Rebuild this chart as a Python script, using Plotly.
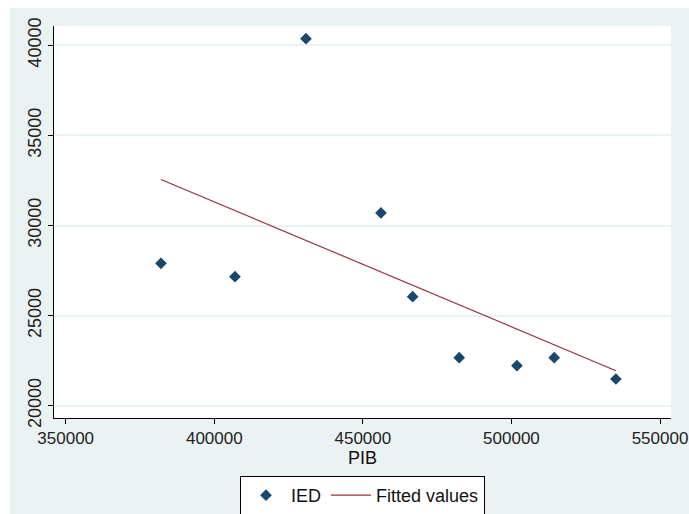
import plotly.graph_objects as go

# Data
pib = [382066, 406965, 430855, 456090, 466756, 482436, 501851, 514401, 535161]
ied = [27902, 27159, 40366, 30699, 26049, 22664, 22220, 22664, 21482]
fit_x = [382066, 535161]
fit_y = [32553, 21942]

x_ticks = [350000, 400000, 450000, 500000, 550000]
y_ticks = [20000, 25000, 30000, 35000, 40000]

W, H = 689, 514
L, R, T, B = 54, 671, 26, 418
pw, ph = R - L, B - T

fig = go.Figure()
fig.add_trace(go.Scatter(
    x=pib, y=ied, mode="markers", name="IED",
    marker=dict(symbol="diamond", size=9, color="#1A476F"),
))
fig.add_trace(go.Scatter(
    x=fit_x, y=fit_y, mode="lines", name="Fitted values",
    line=dict(color="#90353B", width=1.2),
))

bg = "#EAF2F3"
# white strips on top and left (outside the light frame)
fig.add_shape(type="rect", xref="paper", yref="paper",
              x0=-L / pw - 0.01, x1=(W - L) / pw + 0.01,
              y0=(B - 8) / ph, y1=B / ph + 0.01,
              fillcolor="white", line=dict(width=0), layer="below")
fig.add_shape(type="rect", xref="paper", yref="paper",
              x0=-L / pw - 0.01, x1=(10 - L) / pw,
              y0=(B - H) / ph - 0.01, y1=B / ph + 0.01,
              fillcolor="white", line=dict(width=0), layer="below")

fam = "Liberation Sans, Arial, sans-serif"
xfont = dict(family=fam, size=17, color="#222222")
yfont = dict(family=fam, size=18, color="#222222")

fig.update_layout(
    width=W, height=H,
    margin=dict(l=L, r=W - R, t=T, b=H - B, pad=0, autoexpand=False),
    paper_bgcolor=bg, plot_bgcolor="white",
    font=xfont,
    showlegend=True,
    legend=dict(orientation="h", x=0.5, xanchor="center", y=-0.148, yanchor="top",
                bgcolor="white", bordercolor="black", borderwidth=1,
                font=dict(family=fam, size=18, color="#111111"),
                itemwidth=40, tracegroupgap=0),
    xaxis=dict(range=[346063, 553700], tickvals=x_ticks, ticktext=[str(v) for v in x_ticks],
               showgrid=False, zeroline=False, showline=True, linecolor="black", linewidth=1,
               ticks="outside", ticklen=5, tickcolor="black",
               tickfont=xfont,
               title=dict(text="PIB", standoff=0,
                          font=dict(family=fam, size=18, color="#111111"))),
    yaxis=dict(range=[19317, 41071], tickvals=y_ticks, ticktext=[str(v) for v in y_ticks],
               tickangle=-90, showgrid=True, gridcolor=bg, gridwidth=1.5,
               zeroline=False, showline=True, linecolor="black", linewidth=1,
               ticks="outside", ticklen=5, tickcolor="black",
               tickfont=yfont),
)

fig.write_html("out.html", config={"displayModeBar": False},
               post_script="document.body.style.margin='0';document.body.style.overflow='hidden';")
